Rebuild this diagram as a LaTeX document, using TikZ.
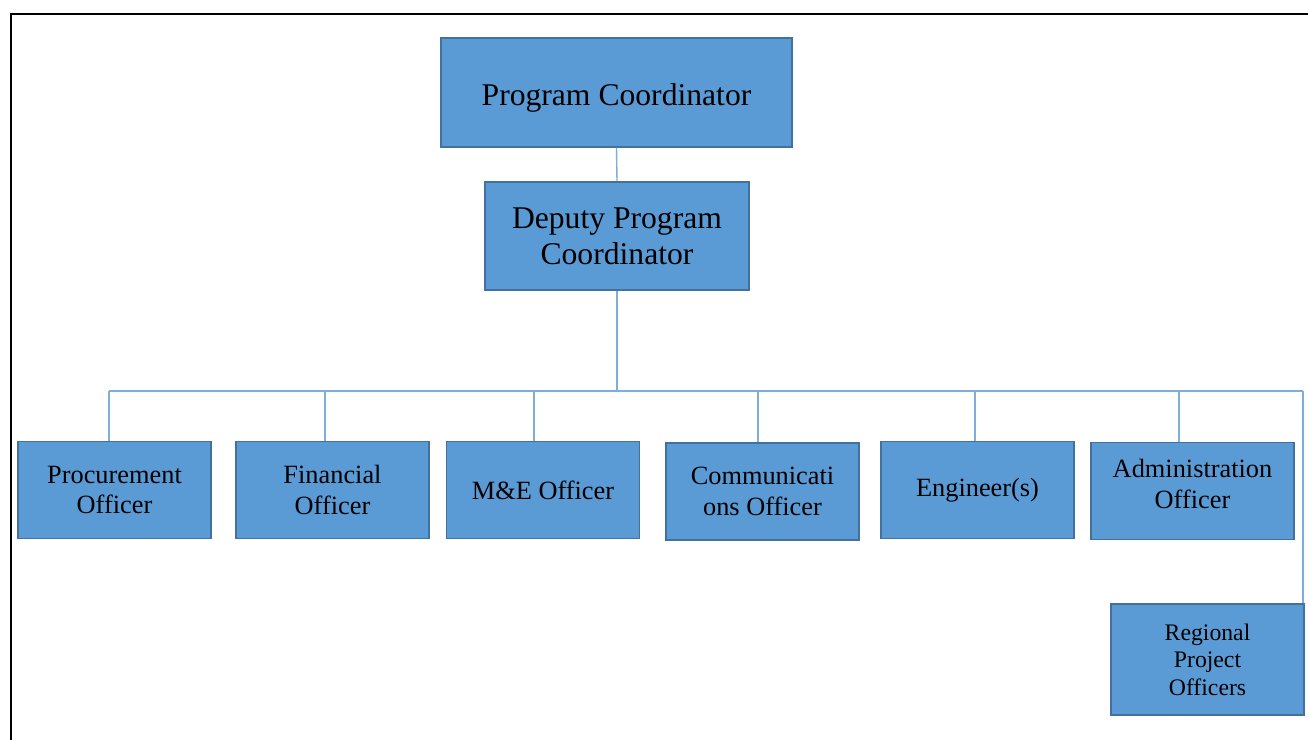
\documentclass[tikz,border=0pt]{standalone}
\usepackage{fontspec}
\setmainfont{Liberation Serif}
\usetikzlibrary{positioning}
\definecolor{boxfill}{RGB}{91,155,213}
\definecolor{boxline}{RGB}{65,113,156}
\definecolor{linkblue}{RGB}{126,174,220}
\tikzset{
  orgbox/.style={draw=boxline, fill=boxfill, line width=1.1pt, inner sep=0pt, align=center},
  bigbox/.style={orgbox, font=\fontsize{18pt}{20.7pt}\selectfont},
  staffbox/.style={orgbox, minimum width=3.86cm, minimum height=1.94cm, font=\fontsize{15pt}{17.6pt}\selectfont},
  link/.style={draw=linkblue, line width=0.8pt},
}

\begin{document}
\begin{tikzpicture}[x=0.02cm, y=-0.02cm]
        \useasboundingbox (0,0) rectangle (1308,740);
        % frame
        \draw [line width=1.1pt] (1308,14) -- (11,14) -- (11,740);
        % top levels
        \node [bigbox, minimum width=7.02cm, minimum height=2.18cm, text height=0.64cm] (pc) at (616.5,92.5) {Program Coordinator};
        \node [bigbox, minimum width=5.28cm, minimum height=2.16cm] (dpc) at (617,236) {Deputy Program\\Coordinator};
        % staff row
        \node [staffbox] (proc) at (114.5,490) {Procurement\\Officer};
        \node [staffbox] (fin) at (332.5,490) {Financial\\Officer};
        \node [staffbox] (me) at (543,490) {M\&E Officer};
        \node [staffbox] (comm) at (762.5,491.5) {Communicati\\ons Officer};
        \node [staffbox] (eng) at (977.5,490) {Engineer(s)};
        \node [staffbox, minimum width=4.06cm, text depth=0.3cm] (admin) at (1192.5,491) {Administration\\Officer};
        \node [staffbox, minimum height=2.22cm, font=\fontsize{13.5pt}{15.6pt}\selectfont] (rpo) at (1207.5,659.5) {Regional\\Project\\Officers};
        % connectors
        \draw [link] (pc.south) -- (dpc.north);
        \coordinate (busL) at (109,391);
        \coordinate (busR) at (1303,391);
        \draw [link] (dpc.south) -- (dpc.south |- busL);
        \draw [link] (busL) -- (busR);
        \foreach \n/\x in {proc/109, fin/325, me/534, comm/758, eng/975, admin/1179} {
          \coordinate (d\n) at (\x,391);
          \draw [link] (d\n) -- (d\n |- \n.north);
        }
        \draw [link] (busR) -- (busR |- rpo.north);
      \end{tikzpicture}
\end{document}
